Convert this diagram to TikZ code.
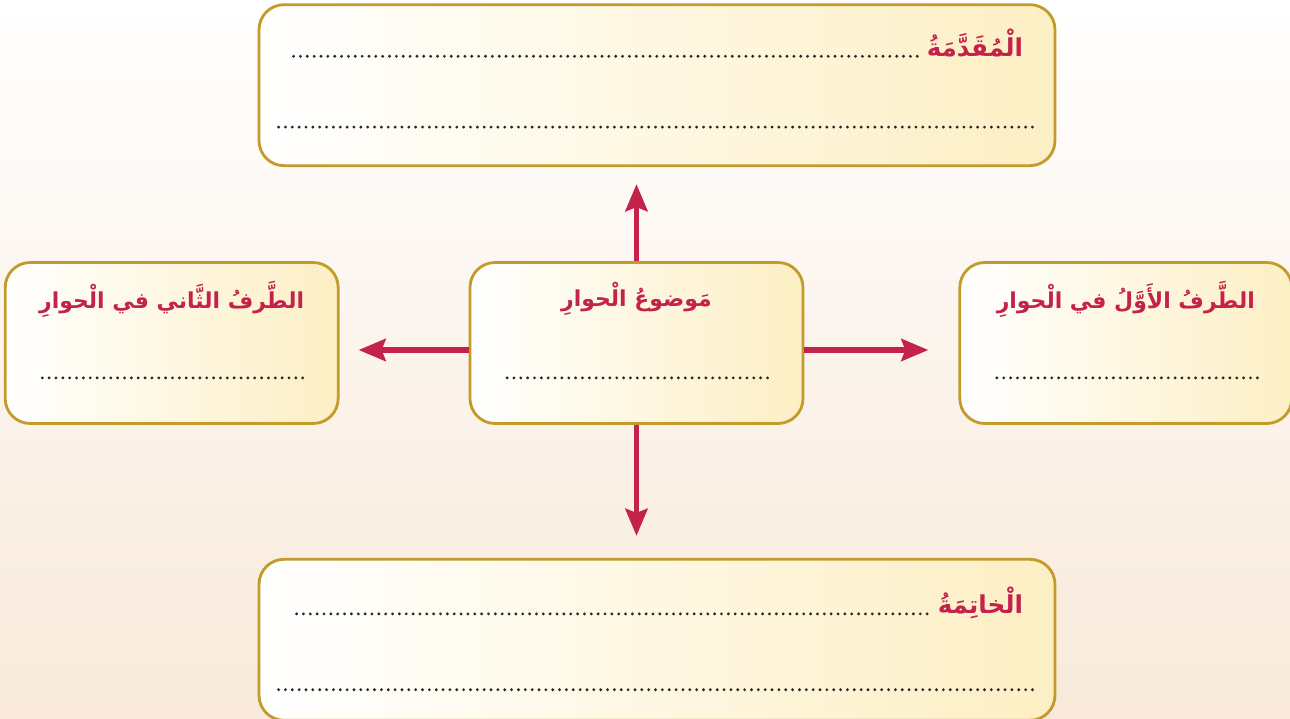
\documentclass[tikz,border=0pt]{standalone}
\usepackage{fontspec}
\newfontfamily\arabicfont[Script=Arabic]{DejaVu Sans}
\TeXXeTstate=1
\usetikzlibrary{arrows.meta,positioning,calc}
\definecolor{borde}{HTML}{C29B2B}
\definecolor{relleno}{HTML}{FDEFC4}
\definecolor{rojotitulo}{HTML}{C4224B}
\definecolor{fondo}{HTML}{F8E9DA}
\newcommand{\artexto}[1]{{\arabicfont\bfseries\beginR #1\endR}}
\tikzset{
    cuadro/.style={
        rectangle,                % forma básica
        rounded corners=5mm,      % esquinas redondeadas
        draw=borde,               % borde dorado
        line width=1.6pt,         % borde grueso
        left color=white,         % degradado: blanco a la izquierda
        right color=relleno,      % ... amarillo suave a la derecha
        minimum width=#1,         % ancho según la caja
        minimum height=3.22cm,    % altura común
        inner sep=0pt
    },
    encabezado/.style={
        text=rojotitulo,          % títulos en rojo
        font=\fontsize{12.5}{15}\selectfont,
        inner sep=0pt
    },
    puntos/.style={
        draw=black!85,
        line width=1.8pt,         % puntos gruesos
        line cap=round,           % puntos redondos
        dash pattern=on 0pt off 3.9pt
    },
    flecha/.style={
        draw=rojotitulo,
        line width=3.2pt,
        -{Stealth[length=5.4mm,width=4.4mm,inset=0.8mm]}
    }
}
\begin{document}
\begin{tikzpicture}
    % fondo con degradado
    \fill[top color=white, bottom color=fondo] (-12.73,6.86) rectangle (13.07,-7.52);
    \useasboundingbox (-12.73,6.86) rectangle (13.07,-7.52);

    \node[cuadro=6.66cm] (tema) at (0,0) {};
    \node[cuadro=15.92cm, above=1.88cm of tema, xshift=0.41cm] (intro) {};
    \node[cuadro=15.92cm, below=2.66cm of tema, xshift=0.41cm] (cierre) {};
    \node[cuadro=6.66cm, left=2.58cm of tema] (segundo) {};
    \node[cuadro=6.64cm, right=3.08cm of tema] (primero) {};

    % títulos
    \node[encabezado, font=\fontsize{14}{17}\selectfont, anchor=base east] (introtit) at ($(intro.north east)+(-0.66,-1.06)$) {\artexto{الْمُقَدَّمَةُ}};
    \node[encabezado, font=\fontsize{14}{17}\selectfont, anchor=base east] (cierretit) at ($(cierre.north east)+(-0.66,-1.12)$) {\artexto{الْخاتِمَةُ}};
    \node[encabezado] (tematit) at ($(tema.north)+(0,-0.76)$) {\artexto{مَوضوعُ الْحوارِ}};
    \node[encabezado] (segundotit) at ($(segundo.north)+(0,-0.76)$) {\artexto{الطَّرفُ الثَّاني في الْحوارِ}};
    \node[encabezado] (primerotit) at ($(primero.north)+(0,-0.76)$) {\artexto{الطَّرفُ الأَوَّلُ في الْحوارِ}};

    % líneas para completar
    \draw[puntos] ($(intro.north west)+(0.72,-1.06)$) -- ($(introtit.base west)+(-0.16,0)$);
    \draw[puntos] ($(intro.south west)+(0.42,0.8)$) -- ($(intro.south east)+(-0.4,0.8)$);
    \draw[puntos] ($(cierre.north west)+(0.78,-1.12)$) -- ($(cierretit.base west)+(-0.16,0)$);
    \draw[puntos] ($(cierre.south west)+(0.42,0.64)$) -- ($(cierre.south east)+(-0.4,0.64)$);
    \foreach \caja in {tema,segundo,primero}
        \draw[puntos] ($(\caja.south west)+(0.77,0.94)$) -- ($(\caja.south east)+(-0.71,0.94)$);

    % flechas
    \coordinate[above=1.54cm of tema.north] (arriba);
    \coordinate[below=2.22cm of tema.south] (abajo);
    \coordinate (izq) at ($(tema.west)+(-2.2,-0.14)$);
    \coordinate (der) at ($(tema.east)+(2.48,-0.14)$);

    \draw[flecha] (tema) -- (arriba);
    \draw[flecha] (tema) -- (abajo);
    \draw[flecha] (tema.west |- izq) -- (izq);
    \draw[flecha] (tema.east |- der) -- (der);
\end{tikzpicture}
\end{document}
